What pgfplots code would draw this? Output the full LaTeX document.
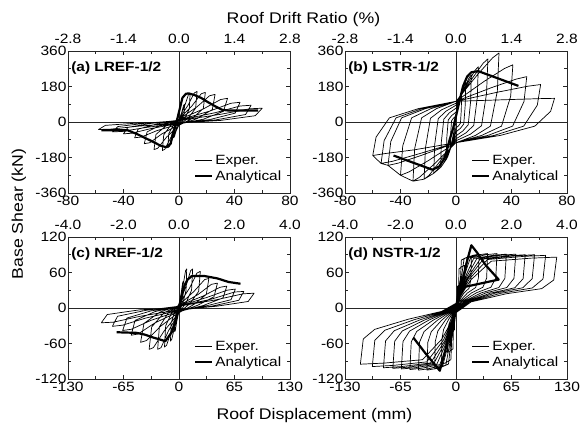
\documentclass[border=0pt]{standalone}
\usepackage{fontspec}
\setmainfont[FakeStretch=1.15]{Liberation Sans}
\usepackage{pgfplots}
\pgfplotsset{compat=1.18}

\newcommand{\tickfont}{\fontsize{13.5}{15}\selectfont}
\newcommand{\labfont}{\fontsize{15.4}{18}\selectfont}
\newcommand{\ttlfont}{\bfseries\fontsize{13.4}{16}\selectfont}

\pgfplotsset{
  panel/.style={
    scale only axis, width=222pt, height=142pt, anchor=south west,
    axis line style={black!85, line width=0.8pt},
    every tick/.style={black!85, line width=0.6pt},
    minor x tick num=1, minor y tick num=1,
    tick label style={font=\tickfont},
    yticklabel style={xshift=2pt},
    legend style={draw=none, fill=none, at={(0.975,0.055)}, anchor=south east,
      font=\fontsize{13.4}{16}\selectfont, row sep=1pt, inner sep=1pt},
    legend cell align=left,
  },
  drift/.style={
    scale only axis, width=222pt, height=142pt, anchor=south west,
    axis x line*=top, hide y axis, ymin=0, ymax=1,
    axis line style={draw=none}, major tick length=0pt, minor tick length=0pt,
    tick label style={font=\tickfont}, xticklabel style={yshift=3.5pt},
  },
  exper/.style={black, line width=0.7pt, line join=round},
  anal/.style={black, line width=2.2pt, line join=round},
}

\begin{document}
\begin{tikzpicture}[x=1pt,y=1pt]
\useasboundingbox (0,0) rectangle (584,423);

% ---------------- (a) ----------------
\begin{axis}[panel, at={(68pt,230pt)},
  xmin=-80, xmax=80, ymin=-360, ymax=360,
  xtick={-80,-40,0,40,80}, xticklabels={-80,-40,0,40,80},
  ytick={-360,-180,0,180,360}, yticklabels={-360,-180,0,180,360}]
\draw[black!85, line width=0.8pt] (axis cs:0,-360) -- (axis cs:0,360);
\draw[black!85, line width=0.8pt] (axis cs:-80,0) -- (axis cs:80,0);
\addplot[exper] coordinates {
(0,0) (0,9) (2,50) (3.4,86) (4,90) (3.7,41) (2,11) (0,-10) (-2,-44) (-3.4,-76) (-4,-80) (-3.7,-36) (-2,-10)
(0,15) (4,80) (6.8,138) (8,145) (7.4,65) (4,17) (0,-16) (-4,-72) (-6.8,-124) (-8,-130) (-7.4,-59) (-4,-16)
(0,16) (6.5,85) (11,147) (13,155) (12,70) (6.5,19) (0,-17) (-6,-80) (-10.2,-138) (-12,-145) (-11,-65) (-6,-17)
(0,15) (9.5,83) (16,143) (19,150) (17.5,68) (9.5,18) (0,-17) (-9,-77) (-15.3,-133) (-18,-140) (-16.6,-63) (-9,-17)
(0,14) (13,77) (22,133) (26,140) (24,63) (13,17) (0,-13) (-12.5,-61) (-21,-105) (-25,-110) (-23,-50) (-12.5,-13)
(0,12) (17.5,66) (30,114) (35,120) (32,54) (17.5,14) (0,-10) (-16,-44) (-27,-76) (-32,-80) (-29.4,-36) (-16,-10)
(0,10) (22,55) (37.4,95) (44,100) (40.5,45) (22,12) (0,-7) (-20,-33) (-34,-57) (-40,-60) (-36.8,-27) (-20,-7)
(0,9) (26,47) (44,81) (52,85) (48,38) (26,10) (0,-6) (-24,-28) (-41,-48) (-48,-50) (-44,-23) (-24,-6)
(0,7) (30,39) (51,67) (60,70) (55,32) (30,8) (0,-5) (-29,-21) (-49,-36) (-58,-38) (-53,-17) (-29,-5) (0,0)
};
\addlegendentry{Exper.}
\addplot[anal] coordinates {
(-56,-42) (-37,-42) (-30,-62) (-20,-96) (-13,-121) (-9,-128) (-6,-110) (-4.6,-62) (-2.5,-15) (-1,22) (1,80) (2.5,123) (5,143) (7,145) (11,137) (16,122) (21,100) (26,80) (31,62) (36,58) (57,58)
};
\addlegendentry{Analytical}
\node[anchor=base west, inner sep=0pt, font=\ttlfont] at (rel axis cs:0.014,0.859) {(a) LREF-1/2};
\end{axis}
\begin{axis}[drift, at={(68pt,230pt)}, xmin=-2.8, xmax=2.8,
  xtick={-2.8,-1.4,0,1.4,2.8}, xticklabels={-2.8,-1.4,0.0,1.4,2.8}]
\end{axis}

% ---------------- (b) ----------------
\begin{axis}[panel, at={(345pt,230pt)},
  xmin=-80, xmax=80, ymin=-360, ymax=360,
  xtick={-80,-40,0,40,80}, xticklabels={-80,-40,0,40,80},
  ytick={-360,-180,0,180,360}, yticklabels={-360,-180,0,180,360}]
\draw[black!85, line width=0.8pt] (axis cs:0,-360) -- (axis cs:0,360);
\draw[black!85, line width=0.8pt] (axis cs:-80,0) -- (axis cs:80,0);
\addplot[exper] coordinates {
(0,0) (-2,-65)
(-4,-130) (-3.84,-58.5) (-3.2,6) (-1.8,19.5) (0,30) (2,91) (3.4,129) (4,140) (3.84,63) (3.2,-6) (1.8,-19.5) (0,-30) (-2,-85) (-3.4,-120) (-4,-130)
(-7,-190) (-6.7,-85.5) (-5.6,10) (-3.15,32.5) (0,50) (3.5,132.5) (5.95,185) (7,200) (6.7,90) (5.6,-10) (3.15,-32.5) (0,-50) (-3.5,-127) (-5.95,-176) (-7,-190)
(-11,-230) (-10.6,-103.5) (-8.8,14) (-4.95,45.5) (0,70) (5.5,163.5) (9.35,223) (11,240) (10.6,108) (8.8,-14) (4.95,-45.5) (0,-70) (-5.5,-158) (-9.35,-214) (-11,-230)
(-16,-260) (-15.4,-117) (-12.8,17) (-7.2,55) (0,85) (8,192) (13.6,260.5) (16,280) (15.4,126) (12.8,-17) (7.2,-55) (0,-85) (-8,-181) (-13.6,-242) (-16,-260)
(-23,-290) (-22,-130.5) (-18.4,19) (-10.35,62) (0,95) (11.5,219) (19.5,297.5) (23,320) (22,144) (18.4,-19) (10.35,-62) (0,-95) (-11.5,-199.5) (-19.5,-271) (-23,-290)
(-31,-300) (-29.8,-135) (-24.8,21) (-14,68) (0,105) (15.5,240) (26.4,325.5) (31,350) (29.8,157.5) (24.8,-21) (14,-68) (0,-105) (-15.5,-212) (-26.4,-280.5) (-31,-300)
(-40,-270) (-38.4,-121.5) (-32,21) (-18,68) (0,105) (20.5,207) (35,271.5) (41,290) (39.4,130.5) (32.8,-21) (18.5,-68) (0,-105) (-20,-196) (-34,-253.5) (-40,-270)
(-49,-220) (-47,-99) (-39.2,21) (-22,68) (0,105) (25.5,174) (43.4,217.5) (51,230) (49,103.5) (40.8,-21) (23,-68) (0,-105) (-24.5,-168) (-41.6,-208.5) (-49,-220)
(-54,-210) (-51.8,-94.5) (-43.2,21) (-24.3,68) (0,105) (30.5,152) (51.9,181.5) (61,190) (58.6,85.5) (48.8,-21) (27.5,-68) (0,-105) (-27,-162) (-45.9,-199.5) (-54,-210)
(-60,-170) (-57.6,-76.5) (-48,21) (-27,68) (0,105) (35.5,113) (60.4,118.5) (71,120) (68.2,54) (56.8,-21) (32,-68) (0,-105) (-30,-141) (-51,-160) (-60,-170)
};
\addlegendentry{Exper.}
\addplot[anal] coordinates {
(-45,-170) (-17,-242) (-12,-225) (-8,-180) (-5,-100) (-2,-30) (0,30) (2,90) (5,180) (8,230) (11,252) (16,258) (45,183)
};
\addlegendentry{Analytical}
\node[anchor=base west, inner sep=0pt, font=\ttlfont] at (rel axis cs:0.014,0.859) {(b) LSTR-1/2};
\end{axis}
\begin{axis}[drift, at={(345pt,230pt)}, xmin=-2.8, xmax=2.8,
  xtick={-2.8,-1.4,0,1.4,2.8}, xticklabels={-2.8,-1.4,0.0,1.4,2.8}]
\end{axis}

% ---------------- (c) ----------------
\begin{axis}[panel, at={(68pt,44pt)},
  xmin=-130, xmax=130, ymin=-120, ymax=120,
  xtick={-130,-65,0,65,130}, xticklabels={-130,-65,0,65,130},
  ytick={-120,-60,0,60,120}, yticklabels={-120,-60,0,60,120}]
\draw[black!85, line width=0.8pt] (axis cs:0,-120) -- (axis cs:0,120);
\draw[black!85, line width=0.8pt] (axis cs:-130,0) -- (axis cs:130,0);
\addplot[exper] coordinates {
(0,0)
(0,5) (2.5,25) (4.3,43) (5,45) (4.6,20) (2.5,5) (0,-5) (-2.5,-22) (-4.3,-38) (-5,-40) (-4.6,-18) (-2.5,-5)
(0,7) (4.5,36) (7.7,63) (9,66) (8.3,30) (4.5,8) (0,-7) (-5,-31) (-8.5,-53) (-10,-56) (-9.2,-25) (-5,-7)
(0,7) (8,36) (13.6,63) (16,66) (14.7,30) (8,8) (0,-8) (-8.5,-36) (-14.5,-63) (-17,-66) (-15.6,-30) (-8.5,-8)
(0,6) (12.5,34) (21,59) (25,62) (23,28) (12.5,7) (0,-8) (-12.5,-39) (-21,-67) (-25,-70) (-23,-32) (-12.5,-8)
(0,5) (17.5,28) (30,48) (35,50) (32,23) (17.5,6) (0,-8) (-17.5,-39) (-30,-67) (-35,-70) (-32,-32) (-17.5,-8)
(0,4) (22.5,23) (38,40) (45,42) (41,19) (22.5,5) (0,-7) (-22.5,-32) (-38,-55) (-45,-58) (-41,-26) (-22.5,-7)
(0,4) (28,20) (48,35) (56,37) (51.5,17) (28,4) (0,-6) (-28,-25) (-48,-44) (-56,-46) (-51.5,-21) (-28,-6)
(0,3) (33,18) (56,30) (66,32) (61,14) (33,4) (0,-5) (-33,-21) (-56,-36) (-66,-38) (-61,-17) (-33,-5)
(0,3) (38,15) (65,27) (76,28) (70,13) (38,3) (0,-4) (-39,-17) (-66,-29) (-78,-31) (-72,-14) (-39,-4)
(0,3) (44,14) (75,24) (88,25) (81,11) (44,3) (0,-3) (-45.5,-14) (-77,-24) (-91,-25) (-84,-11) (-45.5,-3) (0,0)
};
\addlegendentry{Exper.}
\addplot[anal] coordinates {
(-73,-41) (-50,-42) (-40,-45) (-30,-50) (-16,-56) (-8,-40) (-3,-15) (0,0) (3,20) (7,40) (10,48) (15,54) (30,54) (45,50) (58,44) (72,41)
};
\addlegendentry{Analytical}
\node[anchor=base west, inner sep=0pt, font=\ttlfont] at (rel axis cs:0.014,0.859) {(c) NREF-1/2};
\end{axis}
\begin{axis}[drift, at={(68pt,44pt)}, xmin=-4, xmax=4,
  xtick={-4,-2,0,2,4}, xticklabels={-4.0,-2.0,0.0,2.0,4.0}]
\end{axis}

% ---------------- (d) ----------------
\begin{axis}[panel, at={(345pt,44pt)},
  xmin=-130, xmax=130, ymin=-120, ymax=120,
  xtick={-130,-65,0,65,130}, xticklabels={-130,-65,0,65,130},
  ytick={-120,-60,0,60,120}, yticklabels={-120,-60,0,60,120}]
\draw[black!85, line width=0.8pt] (axis cs:0,-120) -- (axis cs:0,120);
\draw[black!85, line width=0.8pt] (axis cs:-130,0) -- (axis cs:130,0);
\addplot[exper] coordinates {
(0,0)
(0,4) (1.6,22) (1.75,36.8) (3.75,39.2) (5,40) (4.85,22) (4.25,15.2) (2.5,11.2) (0.75,4.8)
(0,-4) (-1.6,-22) (-1.75,-36.8) (-3.75,-39.2) (-5,-40) (-4.85,-22) (-4.25,-15.2) (-2.5,-8) (-0.75,-2.4)
(0,7) (3.2,39.6) (3.5,66.2) (7.5,70.6) (10,72) (9.7,39.6) (8.5,27.4) (5,20.2) (1.5,8.6)
(0,-7.5) (-3.2,-41.3) (-3.5,-69) (-7.5,-73.5) (-10,-75) (-9.7,-41.3) (-8.5,-28.5) (-5,-15) (-1.5,-4.5)
(0,8) (5.2,48.4) (6.3,81) (13.5,86.2) (18,88) (17.5,48.4) (15.3,33.4) (9,24.6) (2.7,10.6)
(0,-8) (-5,-52.3) (-6,-87.4) (-12.8,-93.1) (-17,-95) (-16.5,-52.3) (-14.5,-36.1) (-8.5,-19) (-2.6,-5.7)
(0,8) (6.2,50) (9.5,83.7) (20.3,89.2) (27,91) (26.2,50) (23,34.6) (13.5,25.5) (4,10.9)
(0,-8) (-6,-56.7) (-8.8,-94.8) (-18.8,-101) (-25,-103) (-24.3,-56.7) (-21.3,-39.1) (-12.5,-20.6) (-3.8,-6.2)
(0,8) (7.4,50.6) (13,84.6) (27.8,90.2) (37,92) (35.9,50.6) (31.5,35) (18.5,25.8) (5.6,11)
(0,-8) (-7.1,-57.8) (-11.9,-96.6) (-25.5,-102.9) (-34,-105) (-33,-57.8) (-28.9,-39.9) (-17,-21) (-5.1,-6.3)
(0,8) (8.8,50.6) (16.8,84.6) (36,90.2) (48,92) (46.6,50.6) (40.8,35) (24,25.8) (7.2,11)
(0,-8) (-8.3,-57.8) (-15.4,-96.6) (-33,-102.9) (-44,-105) (-42.7,-57.8) (-37.4,-39.9) (-22,-21) (-6.6,-6.3)
(0,8) (10.1,50) (20.7,83.7) (44.3,89.2) (59,91) (57.2,50) (50.2,34.6) (29.5,25.5) (8.9,10.9)
(0,-8) (-9.5,-57.2) (-18.9,-95.7) (-40.5,-101.9) (-54,-104) (-52.4,-57.2) (-45.9,-39.5) (-27,-20.8) (-8.1,-6.2)
(0,8) (11.4,50) (24.5,83.7) (52.5,89.2) (70,91) (67.9,50) (59.5,34.6) (35,25.5) (10.5,10.9)
(0,-8) (-10.7,-56.7) (-22.4,-94.8) (-48,-101) (-64,-103) (-62.1,-56.7) (-54.4,-39.1) (-32,-20.6) (-9.6,-6.2)
(0,8) (12.7,49.5) (28.4,82.8) (60.8,88.2) (81,90) (78.6,49.5) (68.9,34.2) (40.5,25.2) (12.2,10.8)
(0,-8) (-11.9,-56.1) (-25.9,-93.8) (-55.5,-100) (-74,-102) (-71.8,-56.1) (-62.9,-38.8) (-37,-20.4) (-11.1,-6.1)
(0,8) (14,49.5) (32.2,82.8) (69,88.2) (92,90) (89.2,49.5) (78.2,34.2) (46,25.2) (13.8,10.8)
(0,-8) (-13.2,-55.6) (-29.8,-92.9) (-63.8,-99) (-85,-101) (-82.5,-55.6) (-72.3,-38.4) (-42.5,-20.2) (-12.8,-6.1)
(0,8) (15.6,49) (36.8,81.9) (78.8,87.2) (105,89) (101.9,49) (89.3,33.8) (52.5,24.9) (15.8,10.7)
(0,-8) (-14.8,-54.5) (-34.3,-91.1) (-73.5,-97) (-98,-99) (-95.1,-54.5) (-83.3,-37.6) (-49,-19.8) (-14.7,-5.9)
(0,8) (17.2,47.3) (41.3,79.1) (88.5,84.3) (118,86) (114.5,47.3) (100.3,32.7) (59,24.1) (17.7,10.3)
(0,-8) (-16.4,-52.3) (-39.2,-87.4) (-84,-93.1) (-112,-95) (-108.6,-52.3) (-95.2,-36.1) (-56,-19) (-16.8,-5.7) (0,8)
};
\addlegendentry{Exper.}
\addplot[anal] coordinates {
(-50,-50) (-35,-78) (-19,-106) (-14,-80) (-9,-50) (-4,-20) (0,0) (5,30) (10,60) (14,85) (18,106) (25,93) (35,72) (50,48) (8,35)
};
\addlegendentry{Analytical}
\node[anchor=base west, inner sep=0pt, font=\ttlfont] at (rel axis cs:0.014,0.859) {(d) NSTR-1/2};
\end{axis}
\begin{axis}[drift, at={(345pt,44pt)}, xmin=-4, xmax=4,
  xtick={-4,-2,0,2,4}, xticklabels={-4.0,-2.0,0.0,2.0,4.0}]
\end{axis}

% ---------------- shared labels ----------------
\node[anchor=base, font=\labfont] at (303.5,399) {Roof Drift Ratio (\%)};
\node[anchor=base, font=\labfont] at (314.5,3.5) {Roof Displacement (mm)};
\node[rotate=90, font=\labfont] at (19,209) {Base Shear (kN)};
\end{tikzpicture}
\end{document}
